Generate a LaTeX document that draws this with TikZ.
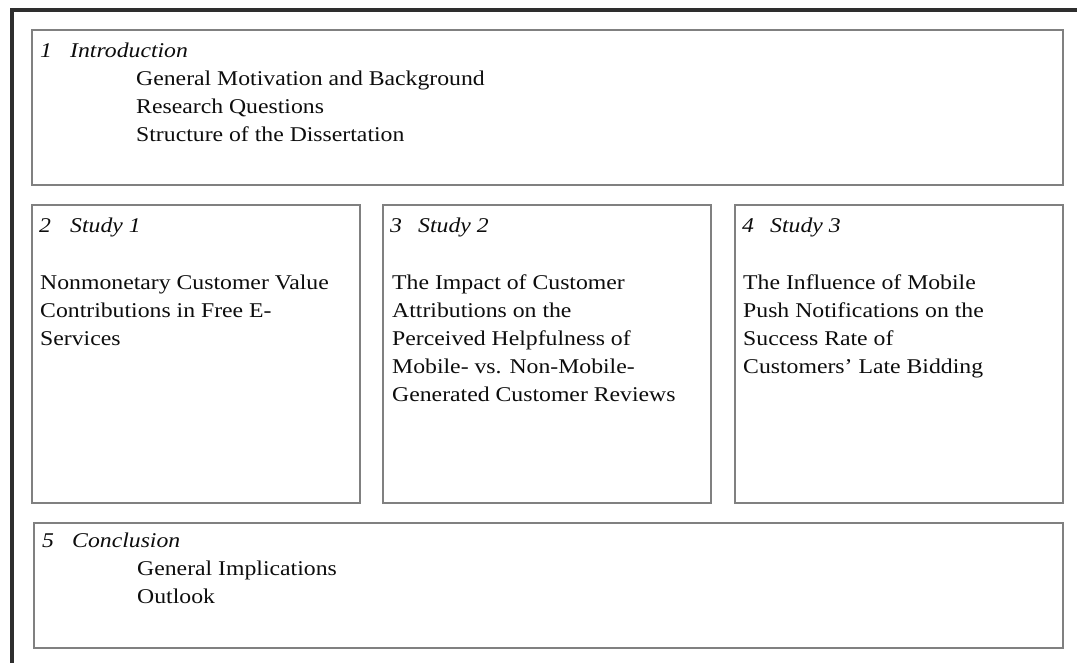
\documentclass[tikz,border=0pt]{standalone}
\usepackage{fontspec}
\setmainfont{Liberation Serif}
\usepackage{graphicx}
\newcommand{\sx}[1]{\scalebox{1.13}[1]{\begin{tabular}[t]{@{}l@{}}#1\end{tabular}}}
\tikzset{
  box/.style={draw=black!50, line width=1.6pt, inner sep=0pt, anchor=north west},
  txt/.style={inner sep=0pt, anchor=base west, text=black!95, font=\fontsize{21}{28}\selectfont},
  frame/.style={draw=black!82, line width=3.4pt}
}
\begin{document}
\begin{tikzpicture}[x=1pt,y=-1pt]
\useasboundingbox (0,0) rectangle (1077,662);
\fill[white] (0,0) rectangle (1077,662);
% outer frame
\coordinate (fbl) at (12,680);
\coordinate (ftl) at (12,10);
\coordinate (ftr) at (1095,10);
\draw[frame] (fbl) -- (ftl) -- (ftr);
% boxes
\node[box, minimum width=1031pt, minimum height=155pt] (intro) at (31,29) {};
\node[box, minimum width=328pt, minimum height=298pt] (s1) at (31,204) {};
\node[box, minimum width=328pt, minimum height=298pt] (s2) at (382,204) {};
\node[box, minimum width=328pt, minimum height=298pt] (s3) at (734,204) {};
\node[box, minimum width=1029pt, minimum height=125pt] (concl) at (33,522) {};
% intro
\node[txt] (n1) at (40,57) {\sx{\textit{1}}};
\node[txt] (t1) at (70,57) {\sx{\textit{Introduction}}};
\node[txt] (b1) at (136,85) {\sx{General Motivation and Background\\Research Questions\\Structure of the Dissertation}};
% study 1
\node[txt] (n2) at (39,232) {\sx{\textit{2}}};
\node[txt] (t2) at (70,232) {\sx{\textit{Study 1}}};
\node[txt] (b2) at (40,289) {\sx{Nonmonetary Customer Value\\Contributions in Free E-\\Services}};
% study 2
\node[txt] (n3) at (390,232) {\sx{\textit{3}}};
\node[txt] (t3) at (418,232) {\sx{\textit{Study 2}}};
\node[txt] (b3) at (392,289) {\sx{The Impact of Customer\\Attributions on the\\Perceived Helpfulness of\\Mobile- vs. Non-Mobile-\\Generated Customer Reviews}};
% study 3
\node[txt] (n4) at (742,232) {\sx{\textit{4}}};
\node[txt] (t4) at (770,232) {\sx{\textit{Study 3}}};
\node[txt] (b4) at (743,289) {\sx{The Influence of Mobile\\Push Notifications on the\\Success Rate of\\Customers' Late Bidding}};
% conclusion
\node[txt] (n5) at (42,547) {\sx{\textit{5}}};
\node[txt] (t5) at (72,547) {\sx{\textit{Conclusion}}};
\node[txt] (b5) at (137,575) {\sx{General Implications\\Outlook}};
\end{tikzpicture}
\end{document}
